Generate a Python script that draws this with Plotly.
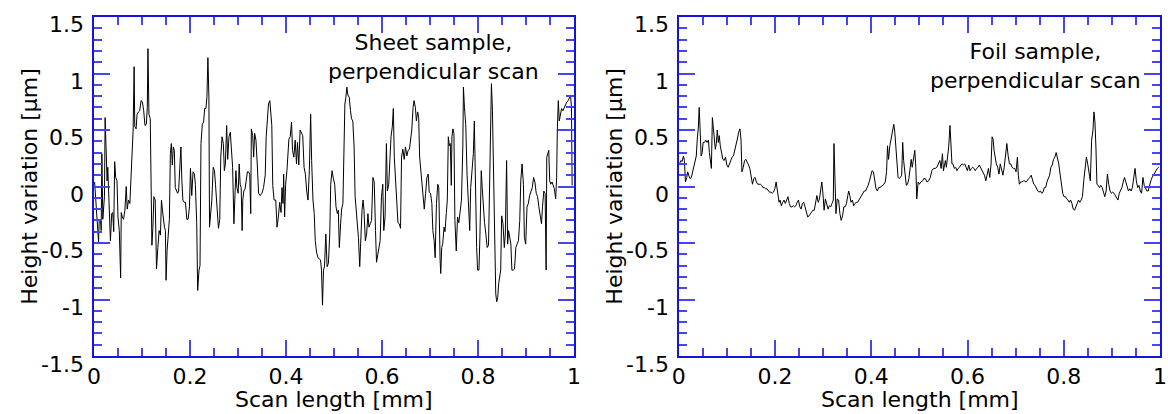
import plotly.graph_objects as go

# Surface profile of the sheet sample (scan position in mm, height in µm)
sheet_x = [
    0.0014, 0.0041, 0.0062, 0.0082, 0.0096, 0.0110, 0.0137, 0.0151, 0.0165, 0.0185,
    0.0206, 0.0219, 0.0233, 0.0254, 0.0274, 0.0288, 0.0302, 0.0322, 0.0343, 0.0370,
    0.0391, 0.0412, 0.0432, 0.0453, 0.0480, 0.0501, 0.0528, 0.0556, 0.0569, 0.0590,
    0.0617, 0.0645, 0.0672, 0.0693, 0.0720, 0.0748, 0.0768, 0.0796, 0.0816, 0.0837,
    0.0850, 0.0878, 0.0898, 0.0926, 0.0953, 0.0981, 0.1008, 0.1036, 0.1063, 0.1091,
    0.1111, 0.1125, 0.1145, 0.1173, 0.1193, 0.1207, 0.1228, 0.1248, 0.1276, 0.1303,
    0.1331, 0.1358, 0.1385, 0.1406, 0.1427, 0.1447, 0.1468, 0.1488, 0.1502, 0.1523,
    0.1550, 0.1571, 0.1591, 0.1612, 0.1632, 0.1653, 0.1674, 0.1694, 0.1722, 0.1742,
    0.1763, 0.1790, 0.1811, 0.1831, 0.1852, 0.1879, 0.1907, 0.1934, 0.1962, 0.1989,
    0.2010, 0.2037, 0.2064, 0.2092, 0.2112, 0.2140, 0.2160, 0.2188, 0.2209, 0.2229,
    0.2257, 0.2284, 0.2305, 0.2332, 0.2353, 0.2373, 0.2394, 0.2407, 0.2428, 0.2455,
    0.2483, 0.2510, 0.2531, 0.2551, 0.2572, 0.2593, 0.2620, 0.2641, 0.2668, 0.2695,
    0.2716, 0.2737, 0.2764, 0.2785, 0.2812, 0.2840, 0.2860, 0.2888, 0.2915, 0.2936,
    0.2956, 0.2977, 0.3004, 0.3025, 0.3045, 0.3066, 0.3086, 0.3100, 0.3121, 0.3148,
    0.3169, 0.3196, 0.3217, 0.3244, 0.3265, 0.3278, 0.3306, 0.3326,
    0.3347, 0.3374, 0.3402, 0.3429, 0.3464, 0.3498, 0.3532, 0.3567, 0.3587, 0.3608,
    0.3635, 0.3663, 0.3683, 0.3704, 0.3724, 0.3752, 0.3786, 0.3813, 0.3841, 0.3868,
    0.3896, 0.3916, 0.3937, 0.3951, 0.3971, 0.3992, 0.4019, 0.4040, 0.4060, 0.4088,
    0.4115, 0.4136, 0.4163, 0.4191, 0.4218, 0.4239, 0.4266, 0.4294, 0.4321, 0.4348,
    0.4376, 0.4403, 0.4431, 0.4458, 0.4486, 0.4499, 0.4513, 0.4534, 0.4561, 0.4588,
    0.4609, 0.4636, 0.4664, 0.4691, 0.4719, 0.4739, 0.4760, 0.4781, 0.4801, 0.4829,
    0.4856, 0.4883, 0.4911, 0.4931, 0.4959, 0.4986, 0.5014, 0.5041, 0.5069, 0.5089,
    0.5110, 0.5137, 0.5158, 0.5185, 0.5206, 0.5226, 0.5247, 0.5267, 0.5288, 0.5316,
    0.5343, 0.5364, 0.5391, 0.5418, 0.5439, 0.5460, 0.5487, 0.5508, 0.5535, 0.5562,
    0.5583, 0.5604, 0.5624, 0.5652, 0.5679, 0.5706, 0.5727, 0.5754, 0.5782, 0.5809,
    0.5837, 0.5864, 0.5885, 0.5912, 0.5940, 0.5960, 0.5988, 0.6015, 0.6036, 0.6063,
    0.6091, 0.6111, 0.6139, 0.6159, 0.6187, 0.6214, 0.6235, 0.6255, 0.6283, 0.6310,
    0.6331, 0.6358, 0.6385, 0.6406, 0.6433, 0.6461, 0.6488, 0.6516, 0.6543, 0.6571,
    0.6591, 0.6619, 0.6646, 0.6667,
    0.6694, 0.6715, 0.6742, 0.6763, 0.6783, 0.6811, 0.6831, 0.6859, 0.6879, 0.6907,
    0.6934, 0.6962, 0.6982, 0.7010, 0.7037, 0.7058, 0.7085, 0.7106, 0.7133, 0.7160,
    0.7181, 0.7209, 0.7222, 0.7243, 0.7263, 0.7291, 0.7311, 0.7339, 0.7359, 0.7380,
    0.7401, 0.7421, 0.7442, 0.7455, 0.7476, 0.7497, 0.7517, 0.7545, 0.7572, 0.7599,
    0.7627, 0.7654, 0.7682, 0.7695, 0.7716, 0.7743, 0.7771, 0.7798, 0.7826, 0.7846,
    0.7874, 0.7901, 0.7922, 0.7949, 0.7970, 0.7990, 0.8018, 0.8038, 0.8066, 0.8086,
    0.8114, 0.8134, 0.8162, 0.8189, 0.8217, 0.8237, 0.8258, 0.8278, 0.8299, 0.8320,
    0.8340, 0.8368, 0.8388, 0.8409, 0.8429, 0.8450, 0.8471, 0.8491, 0.8519, 0.8546,
    0.8567, 0.8594, 0.8615, 0.8635, 0.8663, 0.8683, 0.8704, 0.8731, 0.8759, 0.8786,
    0.8813, 0.8841, 0.8868, 0.8889, 0.8916, 0.8944, 0.8964, 0.8992, 0.9019, 0.9047,
    0.9074, 0.9102, 0.9129, 0.9156, 0.9184, 0.9211, 0.9239, 0.9266, 0.9294, 0.9321,
    0.9342, 0.9369, 0.9396, 0.9417, 0.9431, 0.9451, 0.9472, 0.9492, 0.9513, 0.9540,
    0.9568, 0.9588, 0.9616, 0.9636, 0.9650, 0.9671, 0.9691, 0.9712, 0.9739, 0.9767,
    0.9794, 0.9822, 0.9849, 0.9877, 0.9904, 0.9925, 0.9945, 0.9959,
]
sheet_y = [
    0.04, -0.14, -0.24, -0.39, -0.49, -0.30, -0.29, -0.39, 0.29, -0.29,
    -0.12, -0.09, 0.61, 0.35, 0.05, 0.17, -0.04, -0.33, -0.48, -0.24,
    -0.23, -0.40, 0.22, 0.08, 0.05, -0.27, -0.39, -0.81, -0.23, -0.27,
    -0.29, -0.21, 0.00, -0.20, -0.12, -0.15, 0.05, 0.26, 0.50, 1.06,
    0.53, 0.51, 0.64, 0.66, 0.67, 0.76, 0.75, 0.67, 0.54, 0.55,
    0.70, 1.22, 0.64, 0.60, -0.12, -0.52, -0.36, -0.09, -0.12, -0.73,
    -0.54, -0.39, -0.43, -0.12, -0.21, -0.32, -0.36, -0.39, -0.83, -0.57,
    -0.45, -0.29, 0.29, 0.38, 0.19, 0.35, 0.32, -0.01, -0.04, -0.06,
    -0.04, 0.20, 0.35, 0.05, -0.12, -0.14, -0.14, -0.29, -0.29, -0.18,
    0.16, -0.08, 0.13, 0.11, 0.02, -0.32, -0.92, -0.74, -0.70, 0.38,
    0.55, 0.57, 0.69, 0.69, 0.79, 1.14, 0.79, -0.36, -0.27, -0.12,
    0.17, 0.14, 0.02, -0.14, -0.24, -0.37, -0.29, 0.26, 0.44, 0.38,
    0.14, 0.20, 0.54, 0.24, 0.44, 0.48, 0.35, 0.17, -0.33, -0.01,
    0.14, -0.01, -0.06, 0.20, 0.02, -0.01, -0.39, -0.12, -0.04, -0.02,
    0.07, 0.13, 0.13, 0.11, -0.24, 0.51, 0.45, 0.26,
    0.47, 0.41, 0.19, -0.06, -0.08, -0.06, -0.01, 0.10, 0.44, 0.58,
    0.73, 0.76, 0.67, 0.54, 0.01, -0.12, -0.12, -0.36, -0.27, -0.14,
    -0.23, -0.01, -0.15, 0.11, -0.27, 0.02, 0.14, 0.26, 0.42, 0.44,
    0.57, 0.32, 0.26, 0.41, 0.20, 0.39, 0.19, 0.50, 0.48, 0.45,
    0.17, 0.11, -0.04, -0.12, 0.14, 0.41, 0.64, 0.23, -0.12, -0.24,
    -0.48, -0.58, -0.63, -0.64, -0.65, -0.74, -1.05, -0.74, -0.71, -0.42,
    -0.71, -0.68, -0.42, 0.02, 0.14, 0.07, 0.02, -0.18, -0.24, -0.21,
    -0.54, -0.33, -0.20, -0.15, 0.35, 0.73, 0.79, 0.88, 0.81, 0.79,
    0.67, 0.60, 0.58, 0.35, -0.09, -0.18, -0.36, -0.45, -0.71, -0.33,
    -0.21, -0.12, -0.21, -0.48, -0.42, -0.24, -0.36, -0.33, -0.30, 0.08,
    0.04, -0.39, -0.67, -0.60, -0.54, -0.48, -0.09, 0.02, -0.39, -0.27,
    0.38, -0.04, 0.02, 0.24, 0.44, 0.53, 0.69, 0.26, 0.08, -0.15,
    -0.32, -0.33, -0.37, 0.26, 0.33, 0.24, 0.35, 0.27, 0.32, 0.33,
    0.41, 0.50, 0.70, 0.76,
    0.70, 0.58, 0.66, 0.61, 0.26, 0.14, 0.01, -0.06, -0.20, -0.06,
    0.08, 0.11, -0.05, -0.06, -0.15, -0.39, -0.48, -0.63, -0.15, 0.02,
    -0.01, -0.65, -0.77, -0.54, -0.51, -0.36, -0.40, -0.23, -0.12, 0.44,
    0.36, 0.38, 0.01, 0.44, 0.51, 0.47, -0.30, -0.57, -0.27, -0.32,
    -0.21, -0.12, 0.35, 0.88, 0.70, 0.55, 0.10, -0.18, -0.39, -0.01,
    0.14, 0.29, 0.58, -0.12, -0.54, -0.74, -0.74, -0.45, 0.14, -0.01,
    -0.21, -0.32, -0.42, -0.54, -0.52, -0.01, 0.79, 0.91, 0.67, 0.05,
    -0.51, -0.95, -1.02, -0.98, -0.86, -0.80, -0.74, -0.26, -0.33, -0.54,
    -0.42, 0.23, -0.51, -0.39, -0.46, -0.51, -0.74, -0.74, -0.73, -0.54,
    -0.51, -0.48, -0.30, 0.05, 0.20, 0.02, -0.45, -0.51, -0.18, -0.15,
    -0.08, -0.04, -0.01, 0.08, 0.04, -0.06, -0.09, -0.18, -0.24, -0.33,
    -0.18, -0.04, -0.06, -0.74, 0.26, 0.29, 0.32, 0.05, 0.02, 0.04,
    -0.01, -0.02, -0.11, 0.08, 0.50, 0.76, 0.58, 0.64, 0.69, 0.67,
    0.70, 0.73, 0.75, 0.76, 0.79, 0.81, 0.70, 0.01,
]

# Surface profile of the foil sample
foil_x = [
    0.0014, 0.0041, 0.0068, 0.0096, 0.0116, 0.0137, 0.0164, 0.0184, 0.0205, 0.0232,
    0.0260, 0.0287, 0.0314, 0.0342, 0.0362, 0.0383, 0.0403, 0.0423, 0.0444, 0.0464,
    0.0485, 0.0505, 0.0533, 0.0560, 0.0587, 0.0615, 0.0635, 0.0656, 0.0676, 0.0697,
    0.0717, 0.0738, 0.0758, 0.0779, 0.0799, 0.0820, 0.0840, 0.0861, 0.0888, 0.0915,
    0.0943, 0.0970, 0.0997, 0.1025, 0.1052, 0.1079, 0.1107, 0.1134, 0.1161, 0.1189,
    0.1216, 0.1243, 0.1270, 0.1291, 0.1311, 0.1339, 0.1366, 0.1393, 0.1421, 0.1448,
    0.1475, 0.1503, 0.1530, 0.1557, 0.1585, 0.1612, 0.1639, 0.1667, 0.1694, 0.1721,
    0.1749, 0.1776, 0.1803, 0.1831, 0.1858, 0.1885, 0.1913, 0.1940, 0.1967, 0.1995,
    0.2022, 0.2042, 0.2063, 0.2083, 0.2104, 0.2131, 0.2158, 0.2186, 0.2213, 0.2240,
    0.2268, 0.2295, 0.2322, 0.2350, 0.2377, 0.2404, 0.2432, 0.2459, 0.2486, 0.2514,
    0.2541, 0.2568, 0.2596, 0.2623, 0.2650, 0.2678, 0.2705, 0.2732, 0.2760, 0.2787,
    0.2814, 0.2842, 0.2869, 0.2896, 0.2923, 0.2951, 0.2971, 0.2992, 0.3019, 0.3046,
    0.3074, 0.3101, 0.3128, 0.3156, 0.3183, 0.3210, 0.3224, 0.3245, 0.3265, 0.3292,
    0.3320, 0.3347, 0.3374, 0.3402, 0.3429, 0.3456, 0.3484, 0.3511, 0.3531, 0.3552,
    0.3579, 0.3607, 0.3634, 0.3661, 0.3689, 0.3716, 0.3743, 0.3770, 0.3798, 0.3825,
    0.3852, 0.3880, 0.3907, 0.3934, 0.3962, 0.3989, 0.4016, 0.4044, 0.4071, 0.4098,
    0.4126, 0.4153, 0.4180, 0.4208, 0.4235, 0.4262, 0.4290, 0.4317, 0.4337, 0.4358,
    0.4385, 0.4413, 0.4440, 0.4467, 0.4488, 0.4508, 0.4536, 0.4556, 0.4577, 0.4604,
    0.4631, 0.4652, 0.4672, 0.4699, 0.4727, 0.4754, 0.4781, 0.4809, 0.4829, 0.4850,
    0.4877, 0.4904, 0.4925, 0.4945, 0.4973, 0.5000, 0.5027, 0.5068,
    0.5089, 0.5123, 0.5157, 0.5191, 0.5225, 0.5260, 0.5294, 0.5328, 0.5362, 0.5396,
    0.5424, 0.5451, 0.5478, 0.5499, 0.5519, 0.5540, 0.5560, 0.5581, 0.5608, 0.5635,
    0.5656, 0.5676, 0.5697, 0.5724, 0.5751, 0.5779, 0.5806, 0.5833, 0.5861, 0.5888,
    0.5915, 0.5943, 0.5970, 0.5997, 0.6025, 0.6052, 0.6079, 0.6107, 0.6134, 0.6161,
    0.6189, 0.6216, 0.6243, 0.6270, 0.6298, 0.6325, 0.6352, 0.6380, 0.6407, 0.6434,
    0.6462, 0.6489, 0.6510, 0.6530, 0.6551, 0.6571, 0.6598, 0.6626, 0.6653, 0.6680,
    0.6708, 0.6735, 0.6762, 0.6790, 0.6817, 0.6844, 0.6872, 0.6899, 0.6926, 0.6954,
    0.6981, 0.7008, 0.7036, 0.7056, 0.7077, 0.7104, 0.7131, 0.7158, 0.7186, 0.7213,
    0.7240, 0.7268, 0.7295, 0.7322, 0.7350, 0.7377, 0.7404, 0.7432, 0.7459, 0.7486,
    0.7514, 0.7541, 0.7568, 0.7596, 0.7623, 0.7650, 0.7678, 0.7705, 0.7732, 0.7760,
    0.7787, 0.7814, 0.7842, 0.7869, 0.7896, 0.7923, 0.7951, 0.7978, 0.8005, 0.8033,
    0.8060, 0.8087, 0.8115, 0.8142, 0.8169, 0.8197, 0.8224, 0.8251, 0.8279, 0.8306,
    0.8333, 0.8361, 0.8388, 0.8415, 0.8443, 0.8470, 0.8497, 0.8525, 0.8552, 0.8579,
    0.8607, 0.8627, 0.8648, 0.8668, 0.8689, 0.8716, 0.8743, 0.8770, 0.8798, 0.8825,
    0.8852, 0.8880, 0.8907, 0.8934, 0.8962, 0.8989, 0.9016, 0.9044, 0.9071, 0.9098,
    0.9126, 0.9153, 0.9180, 0.9208, 0.9235, 0.9262, 0.9290, 0.9317, 0.9344, 0.9372,
    0.9399, 0.9426, 0.9454, 0.9481, 0.9508, 0.9536, 0.9563, 0.9590, 0.9617, 0.9645,
    0.9672, 0.9699, 0.9727, 0.9754, 0.9781, 0.9809, 0.9836, 0.9863, 0.9891, 0.9918,
    0.9945, 0.9973,
]
foil_y = [
    0.20, 0.23, 0.22, 0.27, 0.23, 0.04, 0.08, 0.13, 0.10, 0.07,
    0.08, 0.13, 0.17, 0.22, 0.27, 0.42, 0.51, 0.70, 0.48, 0.27,
    0.30, 0.39, 0.39, 0.41, 0.39, 0.41, 0.30, 0.23, 0.16, 0.61,
    0.51, 0.45, 0.33, 0.38, 0.50, 0.39, 0.45, 0.36, 0.29, 0.24,
    0.23, 0.26, 0.19, 0.17, 0.20, 0.23, 0.26, 0.27, 0.32, 0.35,
    0.42, 0.48, 0.51, 0.42, 0.13, 0.17, 0.23, 0.24, 0.22, 0.19,
    0.16, 0.08, 0.02, 0.07, 0.08, 0.04, 0.02, 0.02, 0.02, 0.01,
    -0.01, -0.01, -0.02, -0.02, -0.04, -0.05, -0.05, -0.06, -0.05, -0.02,
    0.04, -0.01, -0.06, -0.14, -0.12, -0.17, -0.14, -0.12, -0.15, -0.11,
    -0.09, -0.15, -0.18, -0.18, -0.17, -0.18, -0.17, -0.14, -0.12, -0.18,
    -0.20, -0.15, -0.14, -0.18, -0.23, -0.27, -0.26, -0.24, -0.23, -0.21,
    -0.21, -0.15, -0.08, -0.14, -0.11, -0.02, 0.04, -0.05, -0.21, -0.11,
    -0.17, -0.20, -0.17, -0.18, -0.15, -0.12, 0.38, -0.05, -0.24, -0.11,
    -0.12, -0.24, -0.30, -0.26, -0.18, -0.18, -0.15, -0.08, -0.04, -0.08,
    -0.14, -0.12, -0.17, -0.15, -0.14, -0.14, -0.12, -0.09, -0.08, -0.05,
    -0.04, -0.04, -0.02, 0.01, 0.05, 0.11, 0.14, 0.13, 0.07, -0.02,
    -0.04, -0.01, -0.01, 0.00, 0.01, 0.02, 0.04, 0.13, 0.36, 0.24,
    0.36, 0.42, 0.48, 0.55, 0.48, 0.33, 0.22, 0.08, 0.07, 0.08,
    0.10, 0.39, 0.23, 0.08, 0.01, 0.02, 0.07, 0.17, 0.24, 0.17,
    0.26, 0.32, 0.17, -0.11, 0.04, 0.02, 0.04, 0.05,
    0.07, 0.07, 0.04, 0.05, 0.08, 0.14, 0.16, 0.16, 0.17, 0.20,
    0.23, 0.16, 0.29, 0.14, 0.19, 0.23, 0.17, 0.26, 0.35, 0.54,
    0.41, 0.20, 0.20, 0.16, 0.17, 0.14, 0.16, 0.17, 0.19, 0.20,
    0.19, 0.20, 0.17, 0.14, 0.19, 0.14, 0.16, 0.17, 0.16, 0.14,
    0.16, 0.17, 0.19, 0.17, 0.14, 0.13, 0.10, 0.05, 0.11, 0.16,
    0.08, 0.20, 0.44, 0.42, 0.32, 0.26, 0.20, 0.17, 0.11, 0.20,
    0.14, 0.10, 0.17, 0.26, 0.38, 0.27, 0.20, 0.20, 0.17, 0.16,
    0.16, 0.13, 0.26, 0.10, 0.02, 0.04, 0.04, 0.05, 0.05, 0.04,
    0.05, 0.07, 0.08, 0.10, 0.05, 0.02, 0.01, -0.02, -0.04, -0.05,
    -0.04, -0.06, -0.05, -0.01, -0.01, 0.04, 0.07, 0.10, 0.17, 0.19,
    0.24, 0.26, 0.30, 0.26, 0.20, 0.11, -0.01, -0.06, -0.09, -0.09,
    -0.11, -0.12, -0.14, -0.12, -0.15, -0.20, -0.21, -0.17, -0.15, -0.12,
    -0.14, -0.12, -0.09, 0.05, 0.17, 0.26, 0.20, 0.14, 0.05, 0.41,
    0.50, 0.66, 0.57, 0.35, 0.02, 0.01, -0.01, 0.01, -0.01, -0.05,
    -0.09, -0.04, 0.11, 0.02, -0.04, -0.06, -0.05, -0.06, -0.08, -0.09,
    -0.12, -0.06, -0.04, -0.01, 0.04, 0.08, 0.04, -0.01, -0.04, -0.02,
    -0.04, -0.01, 0.08, 0.16, 0.05, -0.01, 0.01, -0.04, -0.06, 0.08,
    0.01, -0.01, -0.04, -0.04, 0.02, 0.05, 0.08, 0.10, 0.13, 0.14,
    0.16, 0.17,
]

x_tick_vals = [0, 0.2, 0.4, 0.6, 0.8, 1.0]
x_tick_text = ["0", "0.2", "0.4", "0.6", "0.8", "1"]
y_tick_vals = [-1.5, -1.0, -0.5, 0, 0.5, 1.0, 1.5]
y_tick_text = ["-1.5", "-1", "-0.5", "0", "0.5", "1", "1.5"]

FONT = "DejaVu Sans, Verdana, sans-serif"
FS = 22
BLUE = "rgb(20,20,225)"
TICK_BLUE = "rgb(70,70,235)"

fig = go.Figure()
fig.add_trace(go.Scatter(x=sheet_x, y=sheet_y, mode="lines",
                         line=dict(color="black", width=1),
                         xaxis="x", yaxis="y", showlegend=False))
fig.add_trace(go.Scatter(x=foil_x, y=foil_y, mode="lines",
                         line=dict(color="black", width=1),
                         xaxis="x2", yaxis="y2", showlegend=False))


def x_axis(domain, anchor):
    return dict(domain=domain, anchor=anchor, range=[0, 1],
                tickmode="array", tickvals=x_tick_vals, ticktext=x_tick_text,
                ticks="inside", ticklen=16, tickwidth=1.5, tickcolor=TICK_BLUE,
                minor=dict(tickmode="linear", tick0=0, dtick=0.05, ticks="inside",
                           ticklen=8, tickwidth=1.5, tickcolor=TICK_BLUE),
                showline=True, linecolor=BLUE, linewidth=1.5, mirror="ticks",
                showgrid=False, zeroline=False, ticklabelstandoff=0,
                tickfont=dict(family=FONT, size=FS, color="black"))


def y_axis(domain, anchor):
    # tick labels are drawn as annotations below, slightly under each tick
    return dict(domain=domain, anchor=anchor, range=[-1.5, 1.5],
                tickmode="array", tickvals=y_tick_vals,
                ticks="inside", ticklen=16, tickwidth=1.5, tickcolor=TICK_BLUE,
                minor=dict(tickmode="linear", tick0=0, dtick=0.1, ticks="inside",
                           ticklen=8, tickwidth=1.5, tickcolor=TICK_BLUE),
                showline=True, linecolor=BLUE, linewidth=1.5, mirror="ticks",
                showgrid=False, zeroline=False, showticklabels=False)


W, H = 1168, 414
y_dom = [1 - 356 / H, 1 - 17 / H]
left_dom = [88 / W, 574 / W]
right_dom = [680 / W, 1167 / W]

fig.update_layout(
    width=W, height=H,
    margin=dict(l=0, r=0, t=0, b=0),
    paper_bgcolor="white", plot_bgcolor="white",
    font=dict(family=FONT, size=FS, color="black"),
    xaxis=x_axis(left_dom, "y"),
    yaxis=y_axis(y_dom, "x"),
    xaxis2=x_axis(right_dom, "y2"),
    yaxis2=y_axis(y_dom, "x2"),
)

text_font = dict(family=FONT, size=FS, color="black")

# y tick labels for both panels
for yref, x_edge in (("y", left_dom[0]), ("y2", right_dom[0])):
    for v, t in zip(y_tick_vals, y_tick_text):
        fig.add_annotation(xref="paper", yref=yref, x=x_edge, y=v, text=t,
                           showarrow=False, xanchor="right", yanchor="middle",
                           xshift=-8, yshift=-8, font=text_font)

annotations = [
    dict(text="Sheet sample,<br>perpendicular scan", x=432 / W, y=1 - 57 / H,
         yanchor="middle"),
    dict(text="Foil sample,<br>perpendicular scan", x=1041 / W, y=1 - 66 / H,
         yanchor="middle"),
    dict(text="Scan length [mm]", x=331 / W, y=0, yanchor="bottom"),
    dict(text="Scan length [mm]", x=924 / W, y=0, yanchor="bottom"),
    dict(text="Height variation [µm]", x=22 / W, y=1 - 186 / H, textangle=-90,
         yanchor="middle"),
    dict(text="Height variation [µm]", x=614 / W, y=1 - 186 / H, textangle=-90,
         yanchor="middle"),
]
for a in annotations:
    fig.add_annotation(xref="paper", yref="paper", showarrow=False,
                       xanchor="center", font=text_font, **a)

fig.write_html("out.html")
